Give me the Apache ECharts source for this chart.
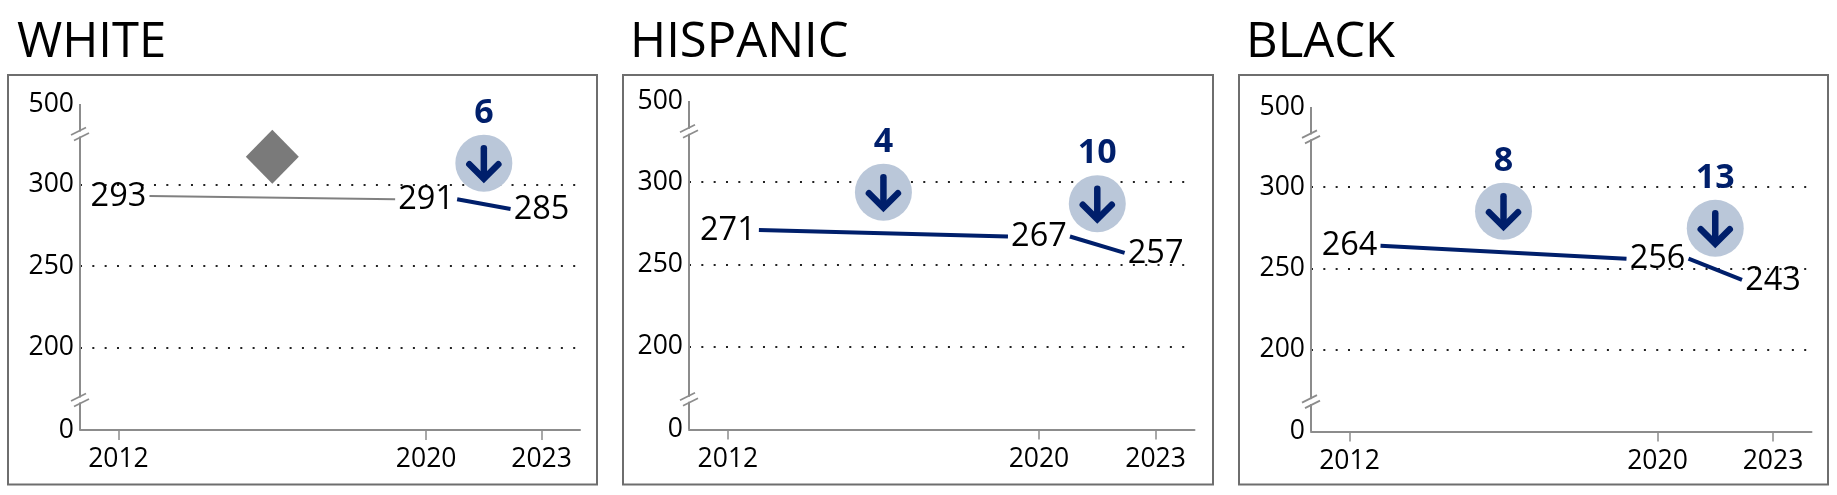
<!DOCTYPE html>
<html><head><meta charset="utf-8">
<style>html,body{margin:0;padding:0;background:#fff}#c{width:1837px;height:495px}</style>
<script src="https://cdn.jsdelivr.net/npm/echarts@6/dist/echarts.min.js"></script>
</head><body><div id="c"></div>
<script>
const years = [2012, 2020, 2023];
const groupNames = ['WHITE', 'HISPANIC', 'BLACK'];
const whiteScores = [293, 291, 285];
const hispanicScores = [271, 267, 257];
const blackScores = [264, 256, 243];
const whiteChanges = [null, 6];
const hispanicChanges = [4, 10];
const blackChanges = [8, 13];
const yTickLabels = [0, 200, 250, 300, 500];

const scores = [whiteScores, hispanicScores, blackScores];
const changes = [whiteChanges, hispanicChanges, blackChanges];

const FONT = '"Open Sans","Noto Sans",sans-serif';
const NAVY = '#001f6b', GREY = '#7a7a7a', AXIS = '#8c8c8c', DISC = '#bac7d9';
const panels = [
  {box:[8,75,589,409.5],  grid:[80,104,500,326],   title:17},
  {box:[623,75,590,409.5],grid:[689,101,505.5,328.5],  title:630},
  {box:[1239,75,589,409.5],grid:[1311,107,500.5,324.5],title:1246}
];
const TRIM = 31, LIFT = 41, LABEL_GAP = 51;

function seg(x1,y1,x2,y2,color,w){
  return {type:'line',shape:{x1,y1,x2,y2},style:{stroke:color,lineWidth:w,lineCap:'butt'},silent:true};
}
function txt(x,y,text,size,color,weight){
  return {type:'text',x,y,silent:true,style:{text,fill:color,font:(weight||'normal')+' '+size+'px '+FONT,align:'center',verticalAlign:'middle'}};
}
function changeMark(cx,cy,value){
  if(value===null){
    return [{type:'polygon',shape:{points:[[cx,cy-27],[cx+26.5,cy],[cx,cy+27],[cx-26.5,cy]]},style:{fill:GREY},silent:true}];
  }
  const arrow={stroke:NAVY,lineWidth:6.5,lineCap:'round',lineJoin:'miter',fill:null};
  return [
    {type:'circle',shape:{cx,cy,r:28.5},style:{fill:DISC},silent:true},
    {type:'line',shape:{x1:cx,y1:cy-15,x2:cx,y2:cy+14},style:arrow,silent:true},
    {type:'polyline',shape:{points:[[cx-14.5,cy+1],[cx,cy+15.5],[cx+14.5,cy+1]]},style:arrow,silent:true},
    txt(cx,cy-LABEL_GAP+1,String(value),34,NAVY,'bold')
  ];
}

const option = {
  animation:false,
  backgroundColor:'#fff',
  title: panels.map((p,i)=>({text:groupNames[i],left:p.title,top:19,padding:0,
    textStyle:{fontFamily:FONT,fontSize:49,fontWeight:'normal',color:'#000'}})),
  graphic: panels.map(p=>({type:'rect',shape:{x:p.box[0],y:p.box[1],width:p.box[2],height:p.box[3]},
    style:{fill:'none',stroke:'#6e6e6e',lineWidth:2},silent:true,z:-1})),
  grid: panels.map(p=>({left:p.grid[0],top:p.grid[1],width:p.grid[2],height:p.grid[3],containLabel:false})),
  xAxis: panels.map((p,i)=>({type:'value',gridIndex:i,min:2011,max:2024,
    axisLine:{show:true,onZero:false,lineStyle:{color:AXIS,width:2}},
    axisTick:{show:true,length:10,customValues:years,lineStyle:{color:AXIS,width:1.5}},
    axisLabel:{customValues:years,formatter:v=>String(v),margin:16,fontFamily:FONT,fontSize:26.5,color:'#000'},
    splitLine:{show:false}})),
  yAxis: panels.map((p,i)=>({type:'value',gridIndex:i,min:0,max:500,
    breaks:[{start:5,end:168,gap:13.4},{start:331,end:495,gap:13.4}],
    breakArea:{show:false,expandOnClick:false},
    axisLine:{show:false},
    axisTick:{show:false,customValues:yTickLabels},
    axisLabel:{customValues:yTickLabels,margin:6,fontFamily:FONT,fontSize:26.5,color:'#000',padding:[9,0,0,0],formatter:v=>String(v)},
    splitLine:{show:true,showMinLine:false,showMaxLine:false,lineStyle:{color:'#222',width:2,type:[2,10.33]}}})),
  series: panels.map((p,i)=>({
    type:'custom',xAxisIndex:i,yAxisIndex:i,coordinateSystem:'cartesian2d',silent:true,clip:false,
    data: years.map((y,j)=>[y,scores[i][j]]),
    renderItem:(params,api)=>{
      if(params.dataIndex!==0) return null;
      const pts = years.map((y,j)=>api.coord([y,scores[i][j]]));
      const kids = [];
      const axisX = api.coord([2011,0])[0];
      const bottomY = api.coord([2011,0])[1], topY = api.coord([2011,500])[1];
      kids.push(seg(axisX,topY,axisX,bottomY,AXIS,2));
      [168,331].forEach(v=>{
        const y=api.coord([2011,v])[1];
        kids.push({type:'rect',shape:{x:axisX-4,y:y-2.5,width:8,height:5},style:{fill:'#fff'},silent:true});
        kids.push(seg(axisX-9,y+1,axisX+6,y-6.5,AXIS,1.8));
        kids.push(seg(axisX-6,y+6.5,axisX+9,y-1,AXIS,1.8));
      });
      for(let s=0;s<2;s++){
        const a=pts[s],b=pts[s+1];
        const muted = changes[i][s]===null;
        kids.push(seg(a[0]+TRIM,a[1],b[0]-TRIM,b[1],muted?'#808080':NAVY,muted?2:4));
        kids.push(...changeMark((a[0]+b[0])/2,(a[1]+b[1])/2-LIFT,changes[i][s]));
      }
      pts.forEach((q,j)=>kids.push(txt(q[0],q[1]+0.5,String(scores[i][j]),32.5,'#000')));
      return {type:'group',children:kids};
    }
  }))
};
const chart = echarts.init(document.getElementById('c'),null,{renderer:'canvas'});
chart.setOption(option);
</script></body></html>
